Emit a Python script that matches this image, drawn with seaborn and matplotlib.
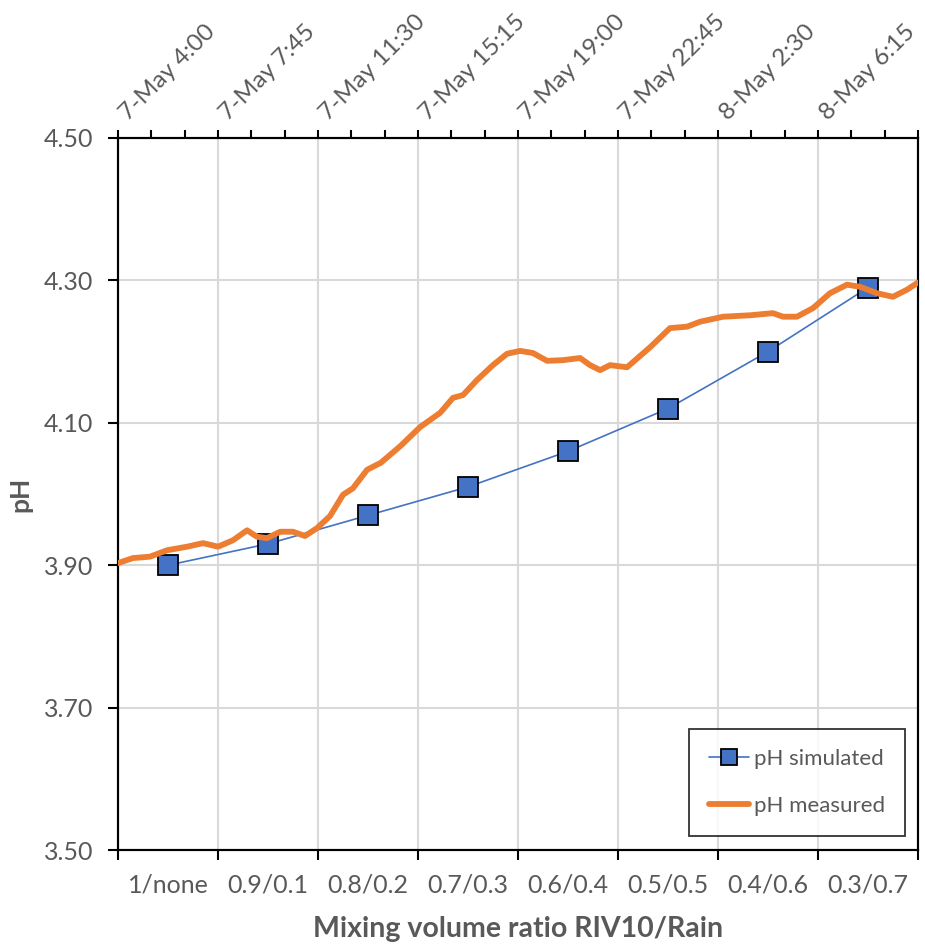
import numpy as np
import pandas as pd
import seaborn as sns
import matplotlib.pyplot as plt
import matplotlib.transforms as mtransforms
from matplotlib.lines import Line2D
from matplotlib.ticker import MultipleLocator, FixedLocator

# Razões de mistura (eixo inferior) e pH simulado
mixing_ratio = ['1/none', '0.9/0.1', '0.8/0.2', '0.7/0.3', '0.6/0.4', '0.5/0.5', '0.4/0.6', '0.3/0.7']
ph_simulated = [3.90, 3.93, 3.97, 4.01, 4.06, 4.12, 4.20, 4.29]

# Rótulos de tempo do eixo superior (a cada 3h45)
time_labels = ['7-May 4:00', '7-May 7:45', '7-May 11:30', '7-May 15:15',
               '7-May 19:00', '7-May 22:45', '8-May 2:30', '8-May 6:15']

# pH medido: horas desde 7-May 4:00
hours_measured = [0.0, 0.56, 1.2, 1.84, 2.59, 3.19, 3.75, 4.31, 4.84, 5.21, 5.59, 6.08, 6.56,
                  7.01, 7.46, 7.95, 8.44, 8.81, 9.34, 9.86, 10.58, 11.33, 12.08, 12.56, 12.94,
                  13.46, 14.06, 14.59, 15.08, 15.56, 16.09, 16.69, 17.33, 17.70, 18.08, 18.45,
                  19.09, 19.95, 20.70, 21.34, 21.83, 22.69, 23.70, 24.56, 24.94, 25.46, 26.06,
                  26.70, 27.34, 27.83, 28.46, 29.06, 29.59, 30.0]
ph_measured = [3.903, 3.910, 3.912, 3.921, 3.926, 3.931, 3.926, 3.935, 3.949, 3.940, 3.938, 3.947,
               3.947, 3.941, 3.952, 3.969, 3.999, 4.008, 4.034, 4.044, 4.067, 4.094, 4.114, 4.135,
               4.139, 4.160, 4.181, 4.197, 4.201, 4.198, 4.187, 4.188, 4.191, 4.181, 4.174, 4.181,
               4.178, 4.206, 4.233, 4.235, 4.242, 4.249, 4.251, 4.254, 4.249, 4.249, 4.261,
               4.282, 4.294, 4.291, 4.282, 4.277, 4.287, 4.297]

step_hours = 3.75

df_sim = pd.DataFrame({'pos': np.arange(len(mixing_ratio)), 'pH': ph_simulated})
df_meas = pd.DataFrame({'hours': hours_measured, 'pH': ph_measured})

sns.set_style('white')
plt.rcParams['font.family'] = ['Lato', 'DejaVu Sans']

blue = '#4472C4'
orange = '#ED7D31'
gray_txt = '#595959'

fig = plt.figure(figsize=(9.25, 9.52), dpi=100)
ax = fig.add_axes([118 / 925, 1 - 850 / 952, 800 / 925, 712 / 952])

# Série simulada no eixo das categorias
sns.lineplot(data=df_sim, x='pos', y='pH', ax=ax, color=blue, linewidth=1.2,
             marker='s', markersize=14, markerfacecolor=blue, markeredgecolor='black',
             markeredgewidth=1.3, zorder=3)

ax.set_xlim(-0.5, len(mixing_ratio) - 0.5)
ax.set_ylim(3.5, 4.5)
ax.xaxis.set_major_locator(FixedLocator(np.arange(-0.5, len(mixing_ratio), 1.0)))
ax.xaxis.set_minor_locator(FixedLocator(np.arange(len(mixing_ratio))))
ax.set_xticklabels([])
ax.set_xticklabels(mixing_ratio, minor=True)
ax.tick_params(axis='x', which='major', direction='out', length=7, width=1.5, color='black', bottom=True)
ax.tick_params(axis='x', which='minor', length=0, pad=17, labelsize=18, labelcolor=gray_txt)
ax.set_yticks(np.arange(3.5, 4.51, 0.2))
ax.set_yticklabels([f'{v:.2f}' for v in np.arange(3.5, 4.51, 0.2)])
ax.tick_params(axis='y', direction='out', length=7, width=1.5, color='black', left=True,
               labelsize=18, labelcolor=gray_txt, pad=11)
ax.grid(True, which='major', color='#D9D9D9', linewidth=1.5)
ax.set_axisbelow(True)
for side in ax.spines.values():
    side.set_color('black')
    side.set_linewidth(1.5)

ax.set_xlabel('Mixing volume ratio RIV10/Rain', fontsize=20.5, fontweight='bold',
              color=gray_txt, labelpad=14)
ax.set_ylabel('pH', fontsize=19, fontweight='bold', color=gray_txt, labelpad=8)

# Série medida no eixo superior (tempo)
ax_top = ax.twiny()
sns.lineplot(data=df_meas, x='hours', y='pH', ax=ax_top, color=orange, linewidth=4.2, zorder=4)
ax_top.set_xlim(0, step_hours * len(mixing_ratio))
ax_top.set_ylim(3.5, 4.5)
ax_top.set_xticks(np.arange(len(time_labels)) * step_hours)
ax_top.set_xticklabels(time_labels, rotation=45, ha='left', va='baseline', rotation_mode='anchor')
ax_top.xaxis.set_minor_locator(MultipleLocator(step_hours / 3))
ax_top.tick_params(axis='x', which='both', top=True, direction='out', length=6, width=1.5,
                   color='black', labelsize=17.5, labelcolor=gray_txt, pad=6)
# léger décalage vers la droite des étiquettes du haut
shift = mtransforms.ScaledTranslation(10 / 100, 0, fig.dpi_scale_trans)
for lbl in ax_top.get_xticklabels():
    lbl.set_transform(lbl.get_transform() + shift)
ax_top.set_xlabel('')
ax_top.set_ylabel('')
ax_top.grid(False)
for side in ax_top.spines.values():
    side.set_color('black')
    side.set_linewidth(1.5)

handles = [
    Line2D([], [], color=blue, linewidth=1.2, marker='s', markersize=11,
           markerfacecolor=blue, markeredgecolor='black', markeredgewidth=1.3),
    Line2D([], [], color=orange, linewidth=4.2),
]
leg = ax_top.legend(handles, ['pH simulated', 'pH measured'], loc='lower right',
                    bbox_to_anchor=(0.984, 0.02), fontsize=16, frameon=True, fancybox=False,
                    edgecolor='black', borderpad=0.9, labelspacing=1.2, handlelength=1.8,
                    handletextpad=0.25, borderaxespad=0)
leg.get_frame().set_linewidth(1.3)
for t in leg.get_texts():
    t.set_color(gray_txt)

fig.savefig('out.png', dpi=100)
